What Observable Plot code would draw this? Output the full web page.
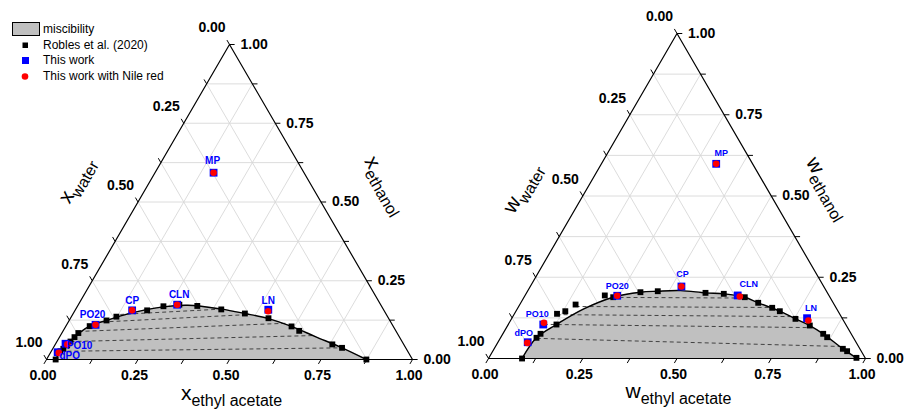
<!DOCTYPE html>
<html><head><meta charset="utf-8">
<script src="https://cdn.jsdelivr.net/npm/d3@7"></script>
<script src="https://cdn.jsdelivr.net/npm/@observablehq/plot@0.6"></script>
<style>
body{margin:0;background:#fff;font-family:"Liberation Sans",Arial,sans-serif;}
#wrap{position:relative;width:909px;height:414px;overflow:hidden;}
#left{position:absolute;left:0;top:0;}
#right{position:absolute;left:455px;top:0;}
.lg{position:absolute;left:12px;height:16px;line-height:16px;font-size:12px;color:#000;white-space:nowrap;}
.lg svg{position:absolute;left:0;top:0;}
.lg span{position:absolute;left:31px;top:0;}
</style></head><body>
<div id="wrap"><div id="left"></div><div id="right"></div><div id="legend"></div></div>
<script>
// ---------- data (compositions as [ethyl acetate, ethanol], water = 1 - both) ----------
const tickValues = [0, 0.125, 0.25, 0.375, 0.5, 0.625, 0.75, 0.875, 1];
const labelValues = [0, 0.25, 0.5, 0.75, 1];
const tickLabels = ["0.00", "0.25", "0.50", "0.75", "1.00"];
const sampleNames = ["MP", "CP", "CLN", "LN", "PO20", "PO10", "dPO"];
const legendLabels = ["miscibility", "Robles et al. (2020)", "This work", "This work with Nile red"];

// mole fractions (left diagram)
const xRobles = [[0.025,0],[0.025,0.026],[0.029,0.034],[0.034,0.045],[0.037,0.057],[0.041,0.071],[0.045,0.084],[0.065,0.106],[0.102,0.124],[0.123,0.136],[0.197,0.156],[0.235,0.169],[0.276,0.174],[0.327,0.170],[0.398,0.159],[0.469,0.146],[0.541,0.131],[0.617,0.105],[0.645,0.091],[0.757,0.048],[0.789,0.037],[0.874,0]];
const xBinodal = [[0.025,0],[0.026,0.03],[0.034,0.045],[0.041,0.071],[0.065,0.106],[0.102,0.124],[0.150,0.145],[0.235,0.167],[0.30,0.172],[0.398,0.160],[0.469,0.146],[0.541,0.130],[0.617,0.105],[0.70,0.072],[0.789,0.037],[0.874,0]];
const xTieLines = [[0.025,0.026,0.789,0.037],[0.037,0.057,0.691,0.076],[0.043,0.089,0.596,0.115],[0.075,0.118,0.486,0.143],[0.130,0.143,0.382,0.159]];
const xThisWork = [[0.160,0.593],[0.156,0.156],[0.270,0.174],[0.527,0.158],[0.079,0.110],[0.027,0.050],[0.019,0.023]];
const xNileRed  = [[0.160,0.593],[0.156,0.156],[0.270,0.174],[0.529,0.153],[0.079,0.110],[0.033,0.048],[0.023,0.021]];

// mass fractions (right diagram)
const wRobles = [[0.089,0],[0.0955,0.0637],[0.100,0.076],[0.128,0.1046],[0.113,0.1375],[0.131,0.1455],[0.148,0.166],[0.2115,0.194],[0.2365,0.1886],[0.301,0.204],[0.3455,0.207],[0.4746,0.202],[0.5246,0.199],[0.5855,0.1886],[0.6297,0.1714],[0.6745,0.156],[0.700,0.1455],[0.7533,0.122],[0.8015,0.1015],[0.8498,0.076],[0.8656,0.0655],[0.925,0.0298],[0.940,0.0225],[0.975,0.002]];
const wBinodal = [[0.089,0],[0.0955,0.0637],[0.128,0.1046],[0.1765,0.1527],[0.2365,0.1886],[0.301,0.204],[0.3455,0.207],[0.405,0.209],[0.4746,0.202],[0.5246,0.199],[0.5855,0.1886],[0.6297,0.1714],[0.700,0.1455],[0.7533,0.122],[0.8015,0.1015],[0.8498,0.076],[0.925,0.0298],[0.975,0.002]];
const wTieLines = [[0.235,0.188,0.589,0.186],[0.151,0.160,0.670,0.157],[0.113,0.135,0.737,0.129],[0.094,0.105,0.806,0.095],[0.097,0.062,0.915,0.037]];
const wThisWork = [[0.3045,0.599],[0.401,0.2215],[0.564,0.194],[0.783,0.124],[0.245,0.193],[0.093,0.1046],[0.079,0.050]];
const wNileRed  = [[0.3045,0.599],[0.401,0.2215],[0.571,0.191],[0.790,0.117],[0.245,0.193],[0.092,0.110],[0.079,0.048]];

// ---------- styles / layout ----------
const labelOffsetsX = {MP:[-1,-12], CP:[0,-10], CLN:[2,-10], LN:[0,-9], PO20:[-3,-10], PO10:[14,2], dPO:[12,4]};
const labelOffsetsW = {MP:[5,-11], CP:[1,-12], CLN:[11,-11], LN:[4,-10], PO20:[0,-10], PO10:[-6,-10], dPO:[-4,-9]};
const FONT = '"Liberation Sans", Arial, sans-serif';
const GRAY = "#c0c0c0", BLUE = "#0000ff", RED = "#ff0000";

const s3 = Math.sqrt(3) / 2;
const X = d => d[0] + d[1] / 2;
const Y = d => d[1] * s3;

function ternary(o) {
  const inner = tickValues.slice(1, -1);
  const grid = inner.flatMap(v => [[[0, v], [1 - v, v]], [[v, 0], [v, 1 - v]], [[0, 1 - v], [1 - v, 0]]]);
  const frame = [[0, 0], [1, 0], [0, 1], [0, 0]];
  const tl = 0.014;
  const txt = {fontFamily: FONT, fontWeight: "bold", fontSize: 14, fill: "#000"};
  const marks = [
    Plot.link(grid, {x1: g => X(g[0]), y1: g => Y(g[0]), x2: g => X(g[1]), y2: g => Y(g[1]), stroke: "#d8d8d8", strokeWidth: 0.9}),
    Plot.areaY(o.curve, {x: X, y1: 0, y2: Y, fill: GRAY, curve: "catmull-rom"}),
    Plot.link(o.ties, {x1: t => t[0] + t[1] / 2, y1: t => t[1] * s3, x2: t => t[2] + t[3] / 2, y2: t => t[3] * s3, stroke: "#333", strokeWidth: 0.9, strokeDasharray: "4,3"}),
    Plot.line(o.curve, {x: X, y: Y, stroke: "#000", strokeWidth: 1.4, curve: "catmull-rom"}),
    Plot.line(frame, {x: X, y: Y, stroke: "#000", strokeWidth: 1.2}),
    Plot.link(tickValues, {x1: v => v, y1: 0, x2: v => v - tl / 2, y2: -tl * s3, stroke: "#000", strokeWidth: 1}),
    Plot.link(tickValues, {x1: v => 1 - v / 2, y1: v => v * s3, x2: v => 1 - v / 2 + tl, y2: v => v * s3, stroke: "#000", strokeWidth: 1}),
    Plot.link(tickValues, {x1: v => (1 - v) / 2, y1: v => (1 - v) * s3, x2: v => (1 - v) / 2 - tl / 2, y2: v => (1 - v + tl) * s3, stroke: "#000", strokeWidth: 1}),
    Plot.text(labelValues, {x: v => v, y: 0, text: (v, i) => tickLabels[i], dy: 16, dx: -3.5, ...txt}),
    Plot.text(labelValues, {x: v => 1 - v / 2, y: v => v * s3, text: (v, i) => tickLabels[i], textAnchor: "start", dx: 11, ...txt}),
    Plot.text(labelValues, {x: v => (1 - v) / 2, y: v => (1 - v) * s3, text: (v, i) => tickLabels[i], dx: -17.5, dy: -16.5, ...txt}),
    Plot.dot(o.robles, {x: X, y: Y, symbol: "square", r: 3.3, fill: "#000", stroke: "none"}),
    Plot.dot(o.blue, {x: X, y: Y, symbol: "square", r: 4.4, fill: BLUE, stroke: "none"}),
    Plot.dot(o.red, {x: X, y: Y, r: 3.3, fill: RED, stroke: "none"}),
    ...sampleNames.map((n, i) => Plot.text([o.blue[i]], {x: X, y: Y, text: () => n, dx: o.offsets[n][0], dy: o.offsets[n][1], fill: BLUE, fontWeight: "bold", fontSize: o.labelSize, fontFamily: FONT})),
    Plot.text([o.sym + "|water"], {x: 0.25, y: 0.5 * s3, text: d => d, rotate: -60, dx: o.tw[0], dy: o.tw[1], fontSize: 21, fontFamily: FONT}),
    Plot.text([o.sym + "|ethanol"], {x: 0.75, y: 0.5 * s3, text: d => d, rotate: 60, dx: o.te[0], dy: o.te[1], fontSize: 21, fontFamily: FONT}),
    Plot.text([o.sym + "|ethyl acetate"], {x: 0.5, y: 0, text: d => d, dx: o.ta[0], dy: o.ta[1], fontSize: 21, fontFamily: FONT})
  ];
  const svg = Plot.plot({
    width: o.width, height: 414,
    marginTop: o.m[0], marginRight: o.m[1], marginBottom: o.m[2], marginLeft: o.m[3],
    x: {domain: [0, 1], axis: null},
    y: {domain: [0, s3], axis: null},
    style: {fontFamily: FONT, background: "transparent", overflow: "visible"},
    marks
  });
  d3.select(svg).selectAll("text").each(function () {
    const t = this.textContent;
    if (t.includes("|")) {
      const [a, b] = t.split("|");
      const sel = d3.select(this);
      sel.text(null);
      sel.append("tspan").text(a);
      sel.append("tspan").attr("font-size", 16).attr("dy", 6).text(b);
    }
  });
  return svg;
}

document.getElementById("left").appendChild(ternary({
  width: 455, m: [44, 43, 55, 46], curve: xBinodal, ties: xTieLines, robles: xRobles,
  blue: xThisWork, red: xNileRed, offsets: labelOffsetsX, labelSize: 10, sym: "x",
  tw: [-62, -22], te: [64.5, -17], ta: [2, 34]
}));
document.getElementById("right").appendChild(ternary({
  width: 454, m: [33, 44, 56, 33], curve: wBinodal, ties: wTieLines, robles: wRobles,
  blue: wThisWork, red: wNileRed, offsets: labelOffsetsW, labelSize: 9, sym: "w",
  tw: [-61, -8], te: [57, -8], ta: [1.5, 33]
}));

// legend
const legendSwatches = [
  `<svg width="28" height="16"><rect x="0.5" y="1.5" width="27" height="13" fill="${GRAY}" stroke="#000"/></svg>`,
  `<svg width="28" height="16"><rect x="10.5" y="5.5" width="5.5" height="5.5" fill="#000"/></svg>`,
  `<svg width="28" height="16"><rect x="10" y="5" width="7" height="7" fill="${BLUE}"/></svg>`,
  `<svg width="28" height="16"><circle cx="13" cy="8.5" r="3.3" fill="${RED}"/></svg>`
];
const legendTops = [21, 36.5, 52, 67.5];
document.getElementById("legend").innerHTML = legendLabels.map((l, i) =>
  `<div class="lg" style="top:${legendTops[i]}px">${legendSwatches[i]}<span>${l}</span></div>`).join("");
</script>
</body></html>
